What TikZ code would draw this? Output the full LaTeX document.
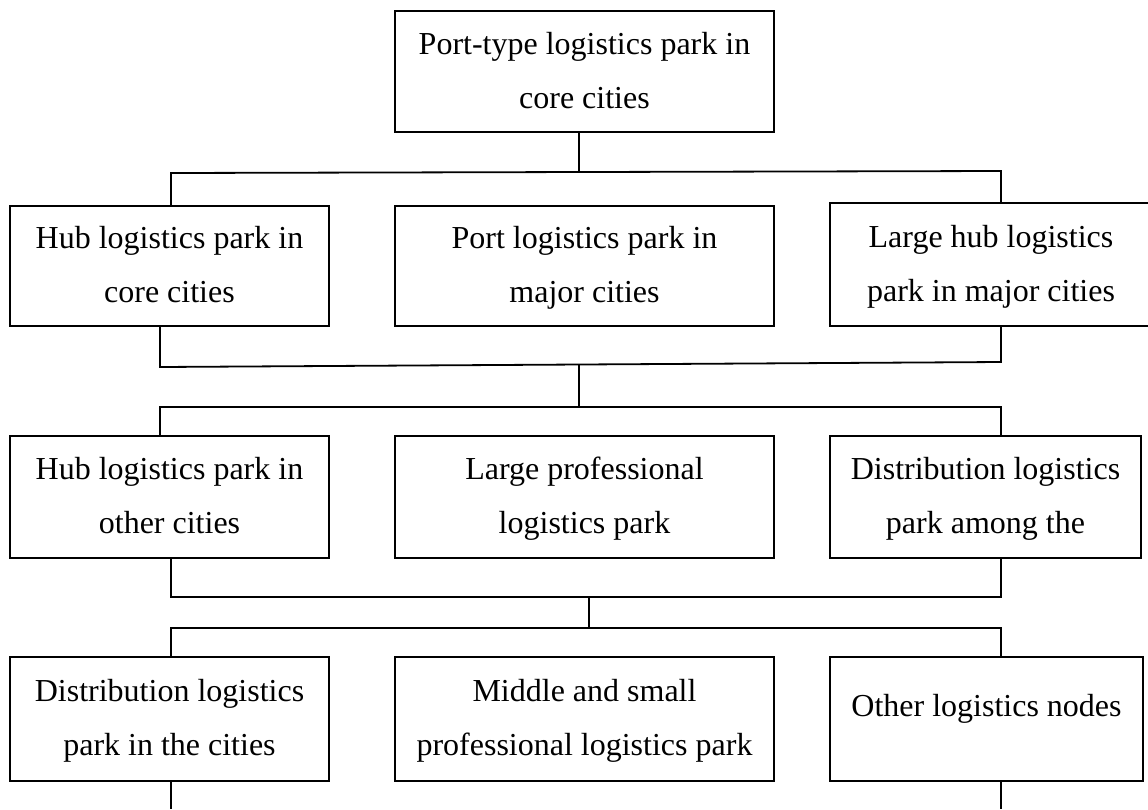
\documentclass[tikz,border=0pt]{standalone}
\usepackage{fontspec}
\setmainfont{Liberation Serif}
\newcommand{\lst}{\rule[-7pt]{0pt}{33pt}}
\begin{document}
\begin{tikzpicture}[x=1pt,y=-1pt,
  box/.style={draw,line width=2pt,inner sep=0pt,align=center,
    font=\fontsize{32}{54}\selectfont},
  conn/.style={line width=1.8pt,line join=miter}]
\useasboundingbox (0,0) rectangle (1148,809);
% boxes
\node[box,minimum width=379,minimum height=121] (top) at (584.5,71.5) {\lst Port-type logistics park in\\\lst core cities};
\node[box,minimum width=319,minimum height=120] (r1a) at (169.5,266) {\lst Hub logistics park in\\\lst core cities};
\node[box,minimum width=379,minimum height=120] (r1b) at (584.5,266) {\lst Port logistics park in\\\lst major cities};
\node[box,minimum width=322,minimum height=123] (r1c) at (991,264.5) {\lst Large hub logistics\\\lst park in major cities};
\node[box,minimum width=319,minimum height=122] (r2a) at (169.5,497) {\lst Hub logistics park in\\\lst other cities};
\node[box,minimum width=379,minimum height=122] (r2b) at (584.5,497) {\lst Large professional\\\lst logistics park};
\node[box,minimum width=311,minimum height=122] (r2c) at (985.5,497) {\lst Distribution logistics\\\lst park among the};
\node[box,minimum width=319,minimum height=124] (r3a) at (169.5,719) {\lst Distribution logistics\\\lst park in the cities};
\node[box,minimum width=379,minimum height=124] (r3b) at (584.5,719) {\lst Middle and small\\\lst professional logistics park};
\node[box,minimum width=313,minimum height=124,text height=22pt,text depth=28pt] (r3c) at (986.5,719) {Other logistics nodes};
% bus coordinates
\coordinate (c1) at (579,172);
\coordinate (l1a) at (171,173);
\coordinate (l1b) at (1001,171);
\coordinate (l2a) at (160,367);
\coordinate (l2b) at (1001,362);
\coordinate (c2) at (579,365);
\coordinate (l3a) at (160,407);
\coordinate (l3b) at (1001,407);
\coordinate (l4a) at (171,597);
\coordinate (l4b) at (1001,597);
\coordinate (c4) at (589,597);
\coordinate (l5a) at (171,628);
\coordinate (l5b) at (1001,628);
\coordinate (e1) at (171,809);
\coordinate (e2) at (1001,809);
% connectors
\draw[conn] (c1 |- top.south) -- (c1);
\draw[conn] (l1a |- r1a.north) -- (l1a) -- (l1b) -- (l1b |- r1c.north);
\draw[conn] (l2a |- r1a.south) -- (l2a) -- (l2b) -- (l2b |- r1c.south);
\draw[conn] (c2) -- (c2 |- l3a);
\draw[conn] (l3a |- r2a.north) -- (l3a) -- (l3b) -- (l3b |- r2c.north);
\draw[conn] (l4a |- r2a.south) -- (l4a) -- (l4b) -- (l4b |- r2c.south);
\draw[conn] (c4) -- (c4 |- l5a);
\draw[conn] (l5a |- r3a.north) -- (l5a) -- (l5b) -- (l5b |- r3c.north);
\draw[conn] (l5a |- r3a.south) -- (e1);
\draw[conn] (l5b |- r3c.south) -- (e2);
\end{tikzpicture}
\end{document}
